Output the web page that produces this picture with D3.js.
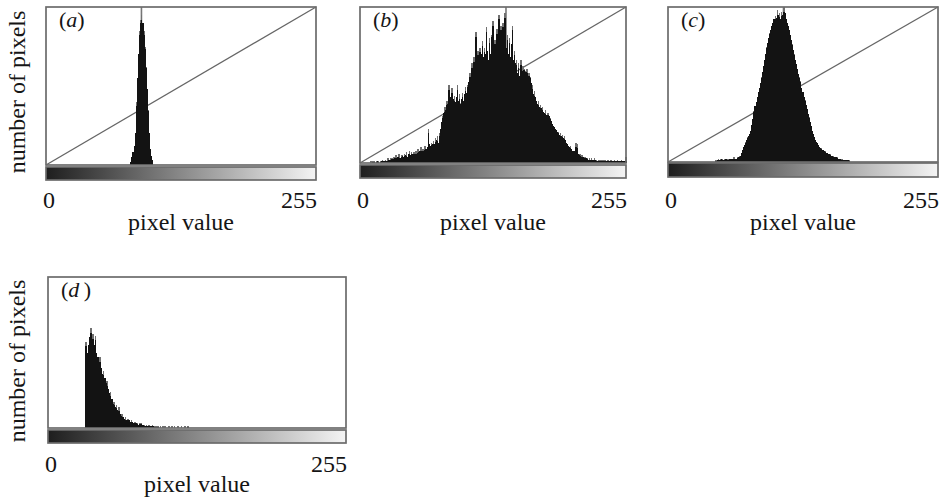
<!DOCTYPE html>
<html><head><meta charset="utf-8">
<script src="https://cdn.jsdelivr.net/npm/d3@7"></script>
<style>
body{margin:0;background:#fff}
svg{display:block}
</style>
</head><body>
<svg id="chart" width="944" height="497"></svg>
<script>
// ---------- data ----------
const panelLabels = ["a", "b", "c", "d"];
const xTickLabels = ["0", "255"];
const xTickValues = [0, 255];
const xAxisTitle = "pixel value";
const yAxisTitle = "number of pixels";

// relative pixel counts (% of plot height), one entry per pixel value
const startA = 80;
const histA = [2,5,8,12,20,40,55,70,85,92,95,90,85,75,62,48,35,20,10,6,3];

const startB = 10;
const histB = [
 1,0,1,1,0,1,1,1,0,1,
 1,2,1,1,2,1,3,2,1,3,
 3,2,4,3,5,3,4,6,3,5,
 5,4,6,5,7,4,6,8,5,7,
 6,7,5,8,6,9,7,8,10,7,
 9,8,11,9,10,22,12,11,13,12,
 14,12,16,15,17,13,19,22,26,30,
 32,36,34,40,38,50,42,40,48,41,
 43,39,42,50,40,44,38,41,45,40,
 44,49,45,50,52,58,54,64,58,68,
 62,84,66,72,68,74,70,78,68,74,
 70,87,72,66,80,70,82,91,74,79,
 76,86,72,95,78,88,80,90,84,96,
 74,82,70,80,68,76,88,66,72,64,
 66,58,64,56,66,58,62,60,57,59,
 60,56,58,55,51,50,44,46,42,40,
 38,40,36,37,35,36,33,32,34,31,
 32,30,29,27,25,24,23,22,21,20,
 20,18,19,17,18,16,17,15,13,12,
 11,10,11,9,8,7,8,13,12,6,
 5,6,4,5,4,3,4,3,3,2,
 3,2,3,2,2,3,2,2,1,2,
 2,1,2,2,1,2,1,1,2,1,
 1,2,1,1,2,1,1,2,1,1,
 1,2,1,1,1,4];

const startC = 45;
const histC = [
 1,1,2,1,2,
 2,2,1,2,2,2,1,2,2,2,
 2,2,3,2,2,3,3,4,4,6,
 8,10,11,13,14,16,17,18,20,24,
 28,33,36,39,42,45,48,51,55,58,
 62,66,70,74,77,80,83,85,88,90,
 92,94,93,98,95,96,92,97,95,100,
 96,92,90,88,85,82,79,76,72,70,
 66,63,60,57,55,52,48,45,42,40,
 37,34,31,29,26,23,20,18,16,14,
 13,12,11,10,9,9,8,7,7,6,
 6,5,5,5,4,4,4,3,3,3,
 3,2,2,2,2,1,1,1,1,1,
 1,1,0];

const startD = 32;
const histD = [
 57,50,55,60,66,58,62,55,61,50,
 47,44,47,40,36,38,33,30,31,26,
 23,24,19,16,17,14,15,12,14,9,
 8,9,7,6,7,5,6,5,4,5,
 4,3,4,3,3,2,3,3,2,2,
 2,1,2,1,2,1,1,2,1,1,
 0,1,1,0,1,0,1,0,1,0,
 0,1,0,0,1,0,1,0,0,1,
 0,0,1,0,0,1,0,1,1];

const peakValues = [90, 140, 109, null];
const showDiagonal = [true, true, true, false];

// ---------- layout ----------
const frames = [
  {left:46,  right:316, top:7,   bottom:165, gTop:167, gBot:180, tickY:208, titleY:230, yLabelCy:92},
  {left:360, right:626, top:7,   bottom:163, gTop:165, gBot:178, tickY:208, titleY:230, yLabelCy:null},
  {left:668, right:938, top:7,   bottom:162, gTop:163, gBot:177, tickY:208, titleY:230, yLabelCy:null},
  {left:48,  right:346, top:277, bottom:428, gTop:430, gBot:443, tickY:472, titleY:492, yLabelCy:361}
];
const hists = [[startA, histA], [startB, histB], [startC, histC], [startD, histD]];

const FONT = "'Liberation Serif', 'Times New Roman', serif";
const svg = d3.select("#chart");
const defs = svg.append("defs");
const grad = defs.append("linearGradient").attr("id", "gray");
grad.append("stop").attr("offset", "0%").attr("stop-color", "#1e1e1e");
grad.append("stop").attr("offset", "100%").attr("stop-color", "#f4f4f4");

const stroke = "#6c6c6c";
const fontSize = 24;

frames.forEach((f, i) => {
  const g = svg.append("g").attr("font-family", FONT).attr("fill", "#151515");
  const x = d3.scaleLinear().domain([0, 256]).range([f.left, f.right]);
  const y = d3.scaleLinear().domain([0, 100]).range([f.bottom, f.top]);
  const [start, vals] = hists[i];
  const data = vals.map((v, k) => {
    const prev = k > 0 ? vals[k - 1] : 0;
    const next = k < vals.length - 1 ? vals[k + 1] : 0;
    const body = Math.min(v, Math.max((prev + next) / 2, v - 3));
    return {px: start + k, n: v, body: body};
  });

  if (showDiagonal[i]) {
    g.append("line")
      .attr("x1", x(0)).attr("y1", y(0)).attr("x2", x(256)).attr("y2", y(100))
      .attr("stroke", "#666").attr("stroke-width", 1.3);
  }
  if (peakValues[i] !== null) {
    g.append("line")
      .attr("x1", x(peakValues[i] + 0.5)).attr("x2", x(peakValues[i] + 0.5))
      .attr("y1", y(100)).attr("y2", y(0))
      .attr("stroke", "#777").attr("stroke-width", 1.6);
  }
  const bars = g.append("g").attr("shape-rendering", "crispEdges");
  bars.selectAll("rect.spike").data(data).enter().append("rect")
    .attr("class", "spike")
    .attr("x", d => x(d.px))
    .attr("width", d => x(d.px + 1) - x(d.px) + 0.5)
    .attr("y", d => y(d.n))
    .attr("height", d => y(0) - y(d.n))
    .attr("fill", "#707070");
  bars.selectAll("rect.body").data(data).enter().append("rect")
    .attr("class", "body")
    .attr("x", d => x(d.px))
    .attr("width", d => x(d.px + 1) - x(d.px) + 0.5)
    .attr("y", d => y(d.body))
    .attr("height", d => y(0) - y(d.body))
    .attr("fill", "#131313");

  g.append("rect")
    .attr("x", f.left).attr("y", f.top)
    .attr("width", f.right - f.left).attr("height", f.bottom - f.top)
    .attr("fill", "none").attr("stroke", stroke).attr("stroke-width", 1.7);
  g.append("rect")
    .attr("x", f.left).attr("y", f.gTop)
    .attr("width", f.right - f.left).attr("height", f.gBot - f.gTop)
    .attr("fill", "url(#gray)").attr("stroke", stroke).attr("stroke-width", 1.7);

  xTickValues.forEach((tv, k) => {
    g.append("text")
      .attr("x", k === 0 ? x(tv) - 3 : x(256) + 1)
      .attr("y", f.tickY)
      .attr("text-anchor", k === 0 ? "start" : "end")
      .attr("font-size", fontSize)
      .text(xTickLabels[k]);
  });
  g.append("text")
    .attr("x", (f.left + f.right) / 2).attr("y", f.titleY)
    .attr("text-anchor", "middle").attr("font-size", fontSize)
    .text(xAxisTitle);

  const lab = g.append("text")
    .attr("x", f.left + 13).attr("y", f.top + 20)
    .attr("font-size", fontSize - 2);
  lab.append("tspan").text("(");
  lab.append("tspan").attr("font-style", "italic").text(panelLabels[i]);
  lab.append("tspan").text(i === 3 ? "\u2009)" : ")");

  if (f.yLabelCy !== null) {
    g.append("text")
      .attr("transform", `translate(25,${f.yLabelCy}) rotate(-90)`)
      .attr("text-anchor", "middle").attr("font-size", fontSize)
      .text(yAxisTitle);
  }
});
</script>
</body></html>
